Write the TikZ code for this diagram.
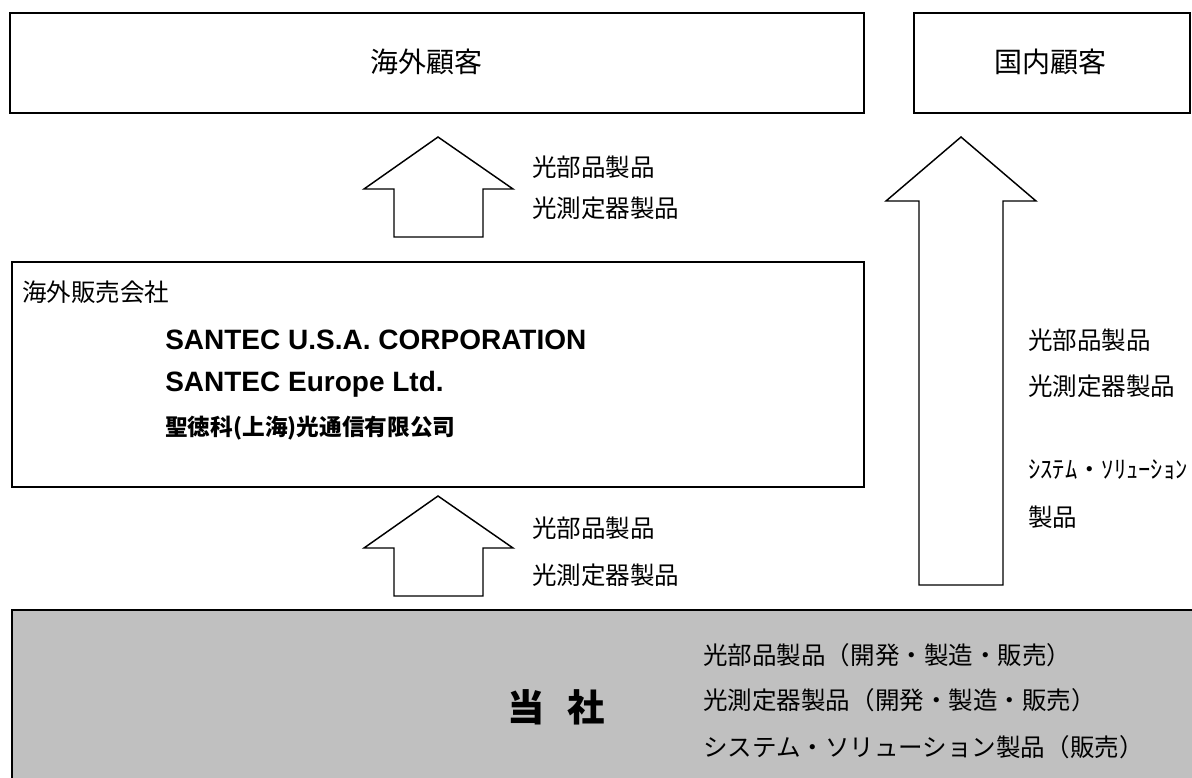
\documentclass[tikz,border=0pt]{standalone}
\usepackage{fontspec}
\setmainfont{Liberation Sans}
\newfontfamily\cjk{Noto Sans CJK JP}

\begin{document}
\begin{tikzpicture}[x=0.75pt,y=0.75pt,yscale=-1,
  box/.style={draw, line width=1.5pt, inner sep=0pt},
  blockarrow/.style={draw, line width=1.1pt, fill=white, line join=miter},
  lbl/.style={anchor=west, inner sep=0pt, font=\cjk\fontsize{18.4}{22}\selectfont},
  title/.style={inner sep=0pt, font=\cjk\fontsize{21}{25}\selectfont},
  firm/.style={anchor=west, inner sep=0pt, font=\bfseries\fontsize{21}{25}\selectfont}]
\clip (0,0) rectangle (1192,778);

%Shape: Rectangle overseas customers
\node[box, minimum width=640.5pt, minimum height=75pt] (overseas) at (437,63) {};
% Text Node
\node[title] (overseastxt) at (426,62) {海外顧客};
%Shape: Rectangle domestic customers
\node[box, minimum width=207pt, minimum height=75pt] (domestic) at (1052,63) {};
% Text Node
\node[title] (domestictxt) at (1050,62) {国内顧客};

%Shape: Rectangle sales companies
\node[box, minimum width=639pt, minimum height=168.75pt] (sales) at (438,374.5) {};
% Text Node
\node[lbl] (salestxt) at (22,292) {海外販売会社};
\node[firm] (usa) at (165,340) {SANTEC U.S.A. CORPORATION};
\node[firm] (europe) at (165,384) {SANTEC Europe Ltd.};
\node[firm, font=\cjk\bfseries\fontsize{17}{20}\selectfont] (shanghai) at (165,428) {聖徳科(上海)光通信有限公司};

%Shape: Rectangle our company
\node[box, fill={rgb, 255:red, 192; green, 192; blue, 192 }, minimum width=891pt, minimum height=142.5pt] (own) at (606,705) {};
% Text Node
\node[inner sep=0pt, font=\cjk\bfseries\fontsize{28}{32}\selectfont] (owntxt) at (556,707) {当\hspace{0.6em}社};
\node[lbl] (own1) at (703,655) {光部品製品（開発・製造・販売）};
\node[lbl] (own2) at (703,700) {光測定器製品（開発・製造・販売）};
\node[lbl] (own3) at (703,747) {システム・ソリューション製品（販売）};

%Shape: Up Arrow own -> sales
\draw[blockarrow] (394,596) -- (394,548) -- (364,548) -- (438,496) -- (513,548) -- (483,548) -- (483,596) -- cycle;
% Text Node
\node[lbl] (up1a) at (532,528) {光部品製品};
\node[lbl] (up1b) at (532,575) {光測定器製品};

%Shape: Up Arrow sales -> overseas
\draw[blockarrow] (394,237) -- (394,189) -- (364,189) -- (438,137) -- (513,189) -- (483,189) -- (483,237) -- cycle;
% Text Node
\node[lbl] (up2a) at (532,167) {光部品製品};
\node[lbl] (up2b) at (532,208) {光測定器製品};

%Shape: Up Arrow own -> domestic
\draw[blockarrow] (919,585) -- (919,201) -- (886,201) -- (961,137) -- (1036,201) -- (1003,201) -- (1003,585) -- cycle;
% Text Node
\node[lbl] (up3a) at (1028,340) {光部品製品};
\node[lbl] (up3b) at (1028,386) {光測定器製品};
\node[lbl] (up3c) at (1028,470) {ｼｽﾃﾑ・ｿﾘｭｰｼｮﾝ};
\node[lbl] (up3d) at (1028,517) {製品};

\end{tikzpicture}
\end{document}
